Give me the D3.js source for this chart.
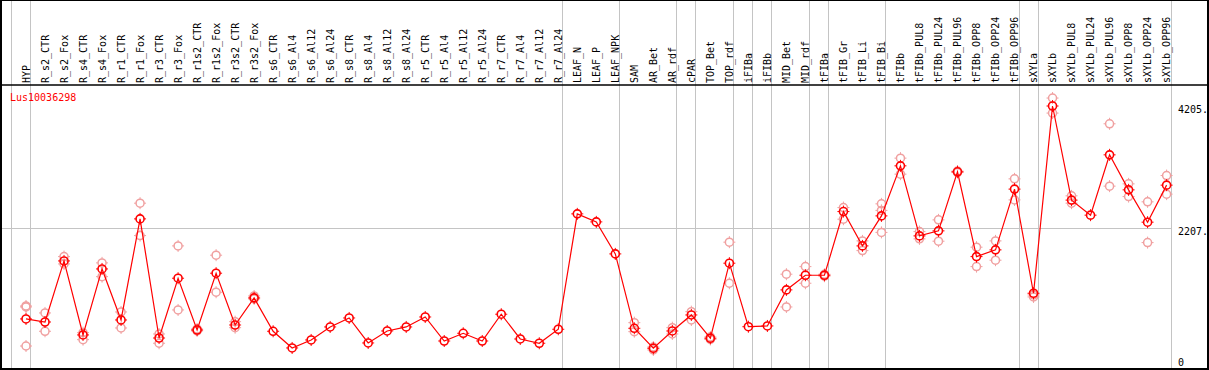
<!DOCTYPE html>
<html>
<head>
<meta charset="utf-8">
<script src="https://cdn.jsdelivr.net/npm/d3@7"></script>
<style>
  body { margin: 0; background: #fff; }
  svg { display: block; }
  text { font-family: "DejaVu Sans Mono", monospace; font-size: 10px; }
</style>
</head>
<body>
<div id="chart"></div>
<script>
// sample names, left to right
var samples = ['HYP',
  'R_s2_CTR', 'R_s2_Fox', 'R_s4_CTR', 'R_s4_Fox', 'R_r1_CTR', 'R_r1_Fox', 'R_r3_CTR', 'R_r3_Fox',
  'R_r1s2_CTR', 'R_r1s2_Fox', 'R_r3s2_CTR', 'R_r3s2_Fox',
  'R_s6_CTR', 'R_s6_Al4', 'R_s6_Al12', 'R_s6_Al24', 'R_s8_CTR', 'R_s8_Al4', 'R_s8_Al12', 'R_s8_Al24',
  'R_r5_CTR', 'R_r5_Al4', 'R_r5_Al12', 'R_r5_Al24', 'R_r7_CTR', 'R_r7_Al4', 'R_r7_Al12', 'R_r7_Al24',
  'LEAF_N', 'LEAF_P', 'LEAF_NPK', 'SAM', 'AR_Bet', 'AR_rdf', 'cPAR', 'TOP_Bet', 'TOP_rdf',
  'iFIBa', 'iFIBb', 'MID_Bet', 'MID_rdf', 'tFIBa', 'tFIB_Gr', 'tFIB_Li', 'tFIB_Bi',
  'tFIBb', 'tFIBb_PUL8', 'tFIBb_PUL24', 'tFIBb_PUL96', 'tFIBb_OPP8', 'tFIBb_OPP24', 'tFIBb_OPP96',
  'sXYLa', 'sXYLb', 'sXYLb_PUL8', 'sXYLb_PUL24', 'sXYLb_PUL96', 'sXYLb_OPP8', 'sXYLb_OPP24', 'sXYLb_OPP96']

// mean expression per sample
var means = [721,
  671, 1670, 459, 1539, 704, 2358, 409, 1387,
  540, 1469, 622, 1065,
  519, 246, 377, 590, 737, 328, 524, 590,
  753, 360, 486, 360, 798, 393, 323, 552,
  2440, 2309, 1785, 568, 241, 524, 786, 405, 1633,
  594, 606, 1196, 1436, 1436, 2478, 1916, 2407,
  3226, 2080, 2162, 3128, 1741, 1851, 2845,
  1141, 4205, 2665, 2419, 3406, 2833, 2304, 2910]

// single replicates per sample
var replicates = [[933, 917, 278],
  [819, 519], [1741, 1621], [496, 382], [1638, 1413], [835, 573], [2615, 2085], [475, 323], [1916, 868],
  [557, 524], [1764, 1158], [676, 578], [1097, 1048],
  [], [], [], [], [], [], [], [],
  [], [], [], [], [], [], [], [],
  [], [], [], [660, 513], [262, 213], [578, 475], [840, 704], [426, 385], [1977, 1305],
  [], [], [1453, 917], [1577, 1305], [1452, 1420], [2543, 2353], [1998, 1839], [2604, 2497, 2137],
  [3352, 3090], [2150, 2031], [2342, 1993], [3140, 3115], [1895, 1577], [1998, 1682], [3013, 2669],
  [1081, 1114], [4335, 4089], [2735, 2615], [], [3914, 2894], [2931, 2723], [2637, 1970], [3067, 2763]]

// group separators sit after these sample indices
var groupEnds = [-1, 0, 28, 31, 34, 35, 37, 38, 39, 41, 42, 45, 52, 53, 60]

var yTicks = [4205, 2207, 0]
var geneName = 'Lus10036298'

var width = 1209
var height = 370
var headerBottom = 85

var svg = d3.select('#chart').append('svg')
  .attr('width', width)
  .attr('height', height)

var x = d3.scaleLinear()
  .domain([0, samples.length - 1])
  .range([26, 1166.6])

var y = d3.scaleLinear()
  .domain([0, 4205])
  .range([363, 106])

// grey separators
svg.append('g')
  .attr('stroke', '#c4c4c4')
  .attr('shape-rendering', 'crispEdges')
  .selectAll('line')
  .data(groupEnds)
  .enter()
  .append('line')
  .attr('x1', d => Math.round(x(d) + 4) + 0.5)
  .attr('x2', d => Math.round(x(d) + 4) + 0.5)
  .attr('y1', 0)
  .attr('y2', height)

svg.append('line')
  .attr('stroke', '#c4c4c4')
  .attr('shape-rendering', 'crispEdges')
  .attr('x1', 1)
  .attr('x2', Math.round(x(60) + 4) + 0.5)
  .attr('y1', Math.round(y(2207)) + 0.5)
  .attr('y2', Math.round(y(2207)) + 0.5)

// frame
svg.append('rect')
  .attr('x', 1)
  .attr('y', 0)
  .attr('width', 1207)
  .attr('height', 369)
  .attr('fill', 'none')
  .attr('stroke', '#000')
  .attr('stroke-width', 2)

svg.append('line')
  .attr('x1', 0)
  .attr('x2', width)
  .attr('y1', headerBottom)
  .attr('y2', headerBottom)
  .attr('stroke', '#000')
  .attr('stroke-width', 1.5)

// sample labels
svg.append('g')
  .selectAll('text')
  .data(samples)
  .enter()
  .append('text')
  .attr('transform', (d, i) => `translate(${x(i)},83) rotate(-90)`)
  .attr('dy', '0.35em')
  .attr('fill', '#000')
  .text(d => d)

svg.append('text')
  .attr('x', 10)
  .attr('y', 101)
  .attr('fill', '#f00')
  .text(geneName)

// value labels on the right
svg.append('g')
  .selectAll('text')
  .data(yTicks)
  .enter()
  .append('text')
  .attr('x', 1178)
  .attr('y', d => Math.min(y(d) + 7, 366))
  .attr('fill', '#000')
  .text(d => d === 0 ? '0' : d + '.')

function marker(g, cx, cy, color, w) {
  g.append('circle')
    .attr('cx', cx)
    .attr('cy', cy)
    .attr('r', 4)
    .attr('fill', 'none')
    .attr('stroke', color)
    .attr('stroke-width', w)
  g.append('path')
    .attr('d', `M${cx},${cy - 6}v2M${cx},${cy + 4}v2M${cx - 6},${cy}h2M${cx + 4},${cy}h2`)
    .attr('stroke', color)
    .attr('stroke-width', 1)
}

var repLayer = svg.append('g')
replicates.forEach((reps, i) => {
  reps.forEach(v => marker(repLayer, x(i), y(v), '#f0a0a0', 1.5))
})

var line = d3.line()
  .x((d, i) => x(i))
  .y(d => y(d))

svg.append('path')
  .datum(means)
  .attr('d', line)
  .attr('fill', 'none')
  .attr('stroke', '#f00')
  .attr('stroke-width', 1.2)

var meanLayer = svg.append('g')
means.forEach((v, i) => marker(meanLayer, x(i), y(v), '#f00', 1.6))
</script>
</body>
</html>
